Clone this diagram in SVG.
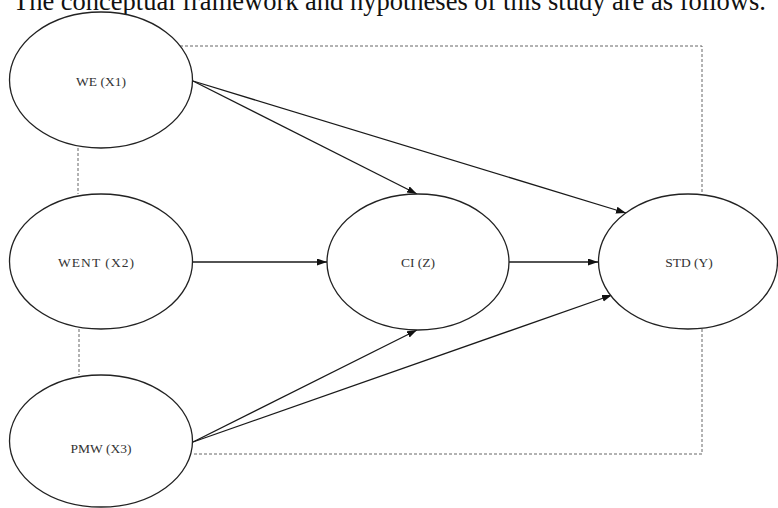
<svg xmlns="http://www.w3.org/2000/svg" width="778" height="508" viewBox="0 0 778 508">
<defs>
<style>
.node ellipse{fill:#fff;stroke:#222;stroke-width:1.3}
.node text{font-family:"Liberation Serif","Times New Roman",serif;font-size:13.5px;fill:#333;text-anchor:middle;dominant-baseline:central}
.arrow{stroke:#1a1a1a;stroke-width:1.3;fill:none;marker-end:url(#ah)}
.dash{stroke:#666;stroke-width:1;fill:none;stroke-dasharray:3 2}
.title{font-family:"Liberation Serif","Times New Roman",serif;font-size:26.5px;fill:#111}
</style>
<marker id="ah" markerUnits="userSpaceOnUse" markerWidth="11" markerHeight="8" refX="10" refY="3.5" orient="auto">
<path d="M0,0 L10,3.5 L0,7 z" fill="#111"/>
</marker>
</defs>
<rect width="778" height="508" fill="#fff"/>
<text class="title" x="13" y="10">The conceptual framework and hypotheses of this study are as follows.</text>
<g id="dashed-border">
<path class="dash" d="M180,46 H702 V194"/>
<path class="dash" d="M78,148 V194"/>
<path class="dash" d="M79,329 V375"/>
<path class="dash" d="M194,454 H702 V329"/>
</g>
<g id="connectors">
<line class="arrow" x1="193" y1="81" x2="417" y2="194"/>
<line class="arrow" x1="193" y1="81" x2="626" y2="213"/>
<line class="arrow" x1="193" y1="262" x2="327" y2="262"/>
<line class="arrow" x1="509" y1="262" x2="598" y2="262"/>
<line class="arrow" x1="193" y1="442" x2="417" y2="330"/>
<line class="arrow" x1="193" y1="442" x2="612" y2="295"/>
</g>
<g id="WE" class="node"><ellipse cx="101" cy="80" rx="91.5" ry="68"/><text x="101" y="81">WE (X1)</text></g>
<g id="WENT" class="node"><ellipse cx="101" cy="261.5" rx="91.5" ry="67.5"/><text x="96" y="262" textLength="76">WENT (X2)</text></g>
<g id="PMW" class="node"><ellipse cx="101" cy="441" rx="91.5" ry="66"/><text x="101" y="448">PMW (X3)</text></g>
<g id="CI" class="node"><ellipse cx="418" cy="262" rx="91" ry="68"/><text x="418" y="262">CI (Z)</text></g>
<g id="STD" class="node"><ellipse cx="688" cy="261.5" rx="89.5" ry="67.5"/><text x="689" y="262">STD (Y)</text></g>
</svg>
